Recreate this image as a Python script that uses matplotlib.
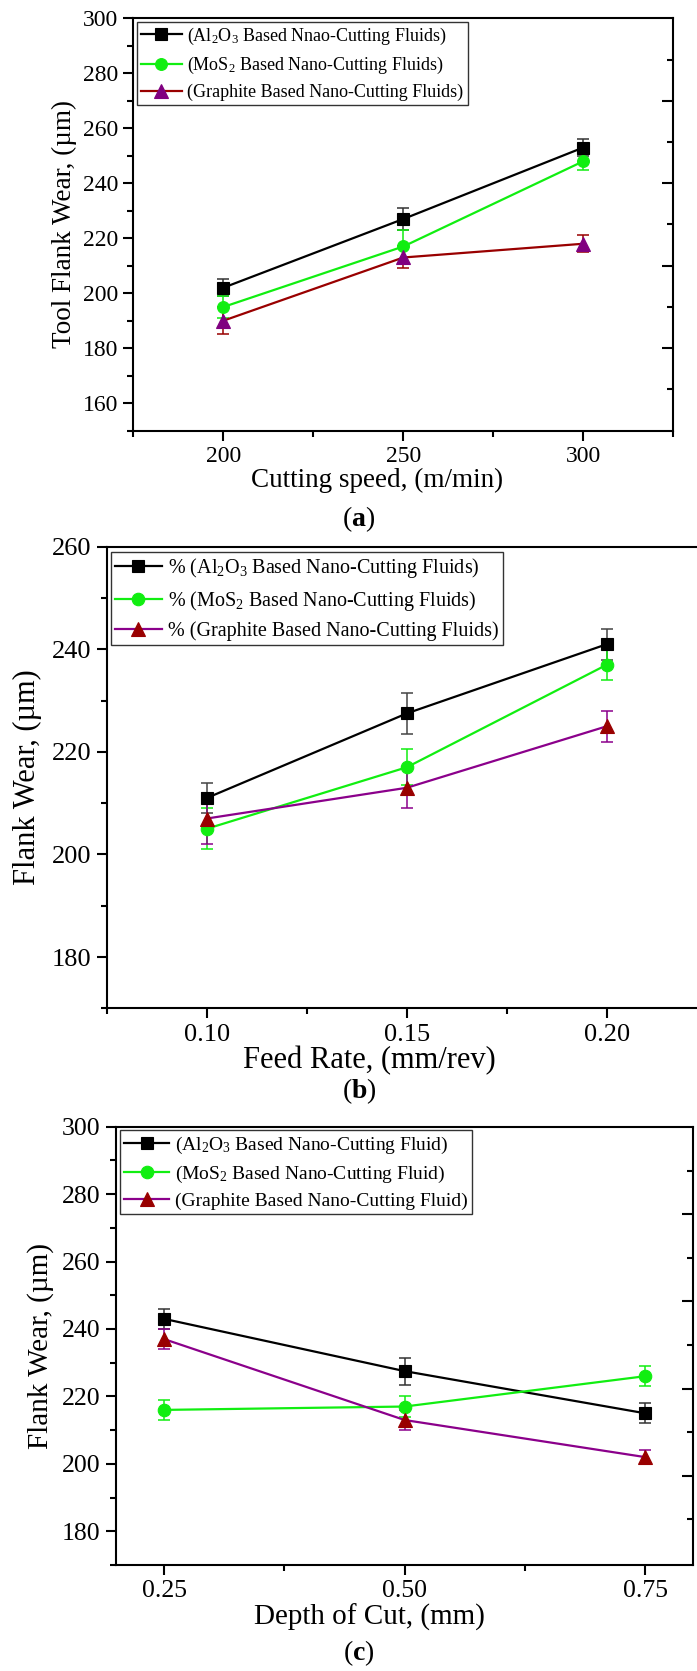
import matplotlib
matplotlib.use("Agg")
import matplotlib.pyplot as plt
from matplotlib.ticker import MultipleLocator, FixedLocator, FormatStrFormatter

plt.rcParams['font.family'] = ['Liberation Serif', 'DejaVu Serif']
plt.rcParams['mathtext.fontset'] = 'custom'
plt.rcParams['mathtext.rm'] = 'Liberation Serif'
plt.rcParams['mathtext.it'] = 'Liberation Serif:italic'
plt.rcParams['mathtext.bf'] = 'Liberation Serif:bold'

# ---------------- data ----------------
speed = [200, 250, 300]
a_al2o3 = [202, 227, 253]
a_al2o3_err = [3, 4, 3]
a_mos2 = [195, 217, 248]
a_mos2_err = [4, 6, 3]
a_graphite = [190, 213, 218]
a_graphite_err = [5, 4, 3]

feed = [0.10, 0.15, 0.20]
b_al2o3 = [211, 227.5, 241]
b_al2o3_err = [3, 4, 3]
b_mos2 = [205, 217, 237]
b_mos2_err = [4, 3.5, 3]
b_graphite = [207, 213, 225]
b_graphite_err = [5, 4, 3]

depth = [0.25, 0.50, 0.75]
c_al2o3 = [243, 227.5, 215]
c_al2o3_err = [3, 4, 3]
c_mos2 = [216, 217, 226]
c_mos2_err = [3, 3, 3]
c_graphite = [237, 213, 202]
c_graphite_err = [3, 3, 2]

a_labels = [r'(Al$_2$O$_3$ Based Nnao-Cutting Fluids)',
            r'(MoS$_2$ Based Nano-Cutting Fluids)',
            r'(Graphite Based Nano-Cutting Fluids)']
b_labels = [r'% (Al$_2$O$_3$ Based Nano-Cutting Fluids)',
            r'% (MoS$_2$ Based Nano-Cutting Fluids)',
            r'% (Graphite Based Nano-Cutting Fluids)']
c_labels = [r'(Al$_2$O$_3$ Based Nano-Cutting Fluid)',
            r'(MoS$_2$ Based Nano-Cutting Fluid)',
            r'(Graphite Based Nano-Cutting Fluid)']

BLACK = '#000000'
GREEN = '#11ee11'
DRED = '#990000'
PURP = '#8b008b'
SERIF = 'Liberation Serif'

W, H = 697, 1671
fig = plt.figure(figsize=(W / 100, H / 100), dpi=100)


def px_axes(l, t, r, b):
    return fig.add_axes([l / W, 1 - b / H, (r - l) / W, (b - t) / H])


def draw_series(ax, x, y, e, line_c, mfc, mec, ecol, marker, ms, label):
    ax.errorbar(x, y, yerr=e, fmt='none', ecolor=ecol, elinewidth=1.1,
                capsize=4, capthick=1.1, zorder=2)
    ax.plot(x, y, color=line_c, lw=1.6, marker=marker, ms=ms, mfc=mfc,
            mec=mec, mew=0.8, label=label, zorder=3)


def style_axes(ax, tsize, right_major=None, right_minor=None):
    for s in ax.spines.values():
        s.set_linewidth(1.5)
    ax.tick_params(which='major', direction='out', length=7, width=1.5,
                   labelsize=tsize, top=False, right=False, pad=4,
                   labelfontfamily=SERIF)
    ax.tick_params(which='minor', direction='out', length=4, width=1.5,
                   top=False, right=False)
    if right_major is not None:
        tw = ax.twinx()
        tw.set_ylim(ax.get_ylim())
        tw.yaxis.set_major_locator(FixedLocator(right_major))
        tw.yaxis.set_minor_locator(FixedLocator(right_minor))
        tw.tick_params(which='major', direction='in', length=8, width=1.5,
                       labelright=False)
        tw.tick_params(which='minor', direction='in', length=4, width=1.5)
        for s in tw.spines.values():
            s.set_visible(False)


def legend(ax, anchor, fs, spacing):
    leg = ax.legend(loc='upper left', bbox_to_anchor=anchor, fontsize=fs,
                    frameon=True, fancybox=False, edgecolor='black',
                    borderpad=0.22, handlelength=2.3, handletextpad=0.3,
                    labelspacing=spacing, borderaxespad=0)
    leg.get_frame().set_linewidth(1.0)


# ---------------- panel (a) ----------------
ax = px_axes(133.3, 18.3, 673.3, 430.7)
draw_series(ax, speed, a_al2o3, a_al2o3_err, BLACK, BLACK, BLACK, '#333333', 's', 8, a_labels[0])
draw_series(ax, speed, a_mos2, a_mos2_err, GREEN, GREEN, GREEN, GREEN, 'o', 8.5, a_labels[1])
draw_series(ax, speed, a_graphite, a_graphite_err, DRED, '#800080', '#800080', DRED, '^', 9.5, a_labels[2])
ax.set_xlim(175, 325)
ax.set_ylim(150, 300)
ax.xaxis.set_major_locator(FixedLocator(speed))
ax.xaxis.set_minor_locator(FixedLocator([175, 225, 275, 325]))
ax.yaxis.set_major_locator(MultipleLocator(20))
ax.yaxis.set_minor_locator(MultipleLocator(10))
style_axes(ax, 17, [180, 210, 240, 270], [165, 195, 225, 255, 285])
ax.set_xlabel('Cutting speed, (m/min)', fontsize=19.5)
ax.xaxis.set_label_coords((377 - 133.3) / 540, -0.089)
ax.set_ylabel('Tool Flank Wear, (µm)', fontsize=19.5)
ax.yaxis.set_label_coords(-0.104, 0.5)
legend(ax, (0.006, 0.992), 13, 0.45)
fig.text(359 / W, 1 - 519 / H, r'($\mathbf{a}$)', ha='center', va='center', fontsize=20)

# ---------------- panel (b) ----------------
ax = px_axes(106.7, 546.7, 707, 1008.3)
draw_series(ax, feed, b_al2o3, b_al2o3_err, BLACK, BLACK, BLACK, '#444444', 's', 8.5, b_labels[0])
draw_series(ax, feed, b_mos2, b_mos2_err, GREEN, GREEN, GREEN, GREEN, 'o', 9, b_labels[1])
draw_series(ax, feed, b_graphite, b_graphite_err, PURP, DRED, DRED, PURP, '^', 10, b_labels[2])
ax.set_xlim(0.075, 0.225)
ax.set_ylim(170, 260)
ax.xaxis.set_major_locator(FixedLocator(feed))
ax.xaxis.set_minor_locator(FixedLocator([0.075, 0.125, 0.175]))
ax.xaxis.set_major_formatter(FormatStrFormatter('%.2f'))
ax.yaxis.set_major_locator(MultipleLocator(20))
ax.yaxis.set_minor_locator(MultipleLocator(10))
style_axes(ax, 19)
ax.set_xlabel('Feed Rate, (mm/rev)', fontsize=22)
ax.xaxis.set_label_coords((369 - 106.7) / 600.3, -0.082)
ax.set_ylabel('Flank Wear, (µm)', fontsize=22)
ax.yaxis.set_label_coords(-0.108, 0.5)
legend(ax, (0.007, 0.989), 14.5, 0.42)
fig.text(359 / W, 1 - 1091 / H, r'($\mathbf{b}$)', ha='center', va='center', fontsize=20)

# ---------------- panel (c) ----------------
ax = px_axes(116, 1126.7, 693.3, 1565)
draw_series(ax, depth, c_al2o3, c_al2o3_err, BLACK, BLACK, BLACK, '#333333', 's', 8.5, c_labels[0])
draw_series(ax, depth, c_mos2, c_mos2_err, GREEN, GREEN, GREEN, GREEN, 'o', 9, c_labels[1])
draw_series(ax, depth, c_graphite, c_graphite_err, PURP, DRED, DRED, PURP, '^', 10, c_labels[2])
ax.set_xlim(0.2, 0.8)
ax.set_ylim(170, 300)
ax.xaxis.set_major_locator(FixedLocator(depth))
ax.xaxis.set_minor_locator(FixedLocator([0.375, 0.625]))
ax.xaxis.set_major_formatter(FormatStrFormatter('%.2f'))
ax.yaxis.set_major_locator(MultipleLocator(20))
ax.yaxis.set_minor_locator(MultipleLocator(10))
style_axes(ax, 18.5, [274.1, 248.2, 222.3, 196.5], [286.9, 261.1, 235.3, 209.4, 183.6])
ax.set_xlabel('Depth of Cut, (mm)', fontsize=21)
ax.xaxis.set_label_coords((369.5 - 116) / 577.3, -0.089)
ax.set_ylabel('Flank Wear, (µm)', fontsize=21)
ax.yaxis.set_label_coords(-0.108, 0.5)
legend(ax, (0.007, 0.992), 14, 0.4)
fig.text(359 / W, 1 - 1653 / H, r'($\mathbf{c}$)', ha='center', va='center', fontsize=20)

fig.savefig('out.png', dpi=100)
